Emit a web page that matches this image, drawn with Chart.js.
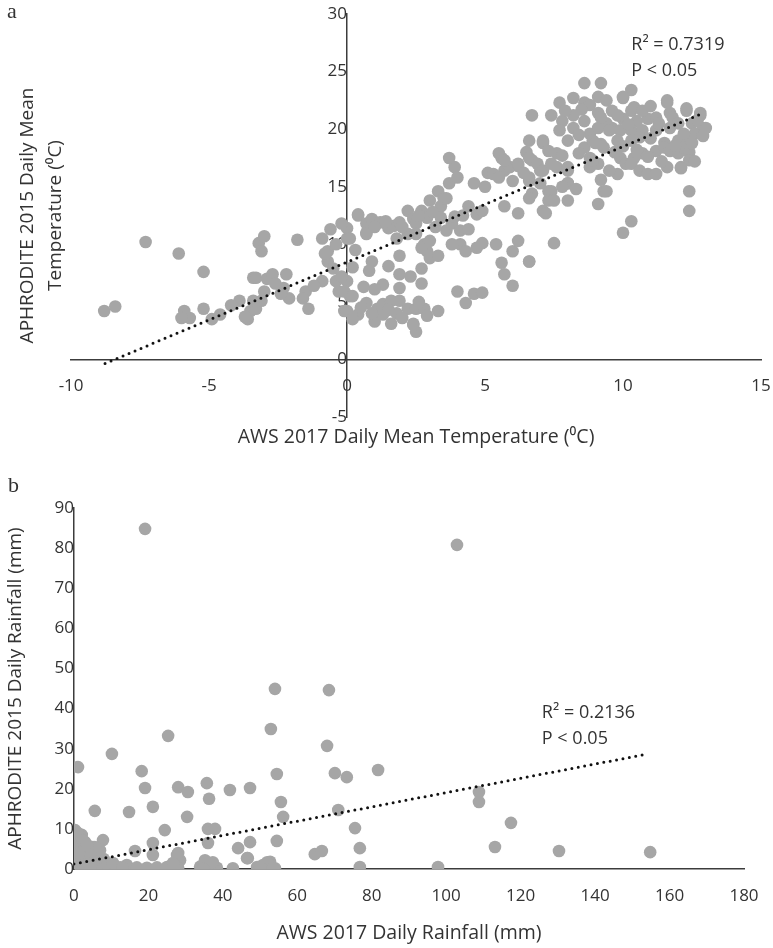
<!DOCTYPE html>
<html>
<head>
<meta charset="utf-8">
<script src="https://cdn.jsdelivr.net/npm/chart.js@4"></script>
<style>
  body { margin: 0; background: #fff; }
  .panel { position: absolute; left: 0; width: 773px; }
  #panelA { top: 0; height: 460px; }
  #panelB { top: 460px; height: 488px; }
</style>
</head>
<body>
<div class="panel" id="panelA"><canvas id="tempChart"></canvas></div>
<div class="panel" id="panelB"><canvas id="rainChart"></canvas></div>
<script>
// panel a: daily mean temperature, AWS 2017 (x) vs APHRODITE 2015 (y)
const tempAws = [
  -8.8, -8.4, -7.3, -6.1, -5.2, -5.9, -5.7, -6.0, -5.2, -4.9, -4.6, -3.9, -3.6, -3.5, -3.3, -3.1, -3.0, -3.4, -3.3, -2.9,
  -2.7, -3.2, -3.0, -3.1, -2.2, -2.3, -2.1, -2.4, -1.8, -1.5, -1.4, -1.6, -0.9, -0.7, -0.7, -0.6, -0.9, -0.4, -0.3, -0.8,
  -0.5, -0.1, -3.7, -3.4, 0.0, 0.0, 0.4, 0.7, 0.0, 0.1, 0.0, 0.4, -0.1, 0.2, 0.1,
  0.4, 0.7, 0.9, 1.2, 1.5, 1.7, 1.9, 2.2, 2.4, 2.7, 2.9, 2.5, 0.7, 1.8, 2.2, 2.5, 2.8, 2.9, 3.0, 3.3,
  2.7, 3.0, 3.3, 3.4, 3.5, 3.7, 3.9, 3.7, 4.0, 3.6, 3.4, 3.6, 3.8, 4.1, 4.4, 4.4, 0.9, 0.8, 1.9, 1.5,
  2.7, 1.9, 2.3, 2.7, 1.3, 1.0, 1.9, 0.7, 1.1, 1.3, 1.6, 1.9, 2.2, 2.5, 2.8, 3.3, 1.0, 1.6, 1.3, 2.4,
  2.5, 2.4, 4.0, 4.3, 4.6, 4.9, 4.1, 4.3, 4.7, 4.9, 5.4, 5.6, 5.7, 6.0, 6.0, 6.2, 6.6, 4.6, 5.1, 5.3,
  5.6, 5.7, 5.9, 6.2, 4.7, 4.9, 5.7, 6.2, 6.7, 6.6, 6.5, 6.7, 7.0, 7.1, 7.3, 6.6, 6.7, 7.1,
  8.6, 9.2, 10.3, 7.7, 8.2, 8.6, 8.8, 9.1, 9.4, 9.6, 10.0, 10.3, 7.4, 7.8, 8.2, 8.6, 9.1, 9.4, 9.6, 10.0,
  10.5, 10.9, 11.2, 11.6, 11.7, 12.3, 12.8, 12.5, 12.9, 7.7, 8.2, 8.8, 9.1, 9.5, 9.9, 10.3, 10.7, 11.2, 11.7, 8.6,
  8.9, 9.3, 9.8, 10.3, 10.6, 11.0, 11.5, 12.0, 12.3, 7.1, 7.3, 7.6, 7.8, 8.8, 9.1, 9.9, 10.1, 10.4, 10.7, 11.2,
  11.5, 11.7, 12.0, 12.2, 12.4, 12.6, 12.5, 6.6, 6.9, 7.1, 7.4, 7.6, 8.0, 6.6, 7.0, 8.8, 9.8, 10.3, 10.6, 10.9,
  11.2, 11.6, 12.1, 12.4, 8.0, 7.4, 7.3, 7.5, 8.0, 9.1, 9.3, 6.6, 7.2, 12.1, 12.4, 12.4, 10.3, 10.0, 7.5, 6.6,
  5.5, 5.7, 6.2, 8.9, 9.2, 9.4, 10.0, 10.4, 11.6, 12.3, 12.8, 13.0, 12.9, 8.0, 8.0,
  8.0, 8.4, 9.0, 9.7, 10.0, 10.5, 10.9, 11.4, 11.9, 12.2, 12.7, 11.3, 11.8, 10.7, 10.2, 9.2, 8.5, 7.9, 9.8, 11.0,
  12.0, 12.6, 8.4, 9.5, 9.2, 8.3, 7.8, 1.0, 1.4, 2.0, 2.6, 3.1, 3.2, 3.9, 4.2, 3.0, 3.8, 0.5, 0.9, 1.8,
  2.0, 2.9, 1.5, 2.6, 0.2, -0.2, 0.2, -0.4, 0.3, -0.2, 5.0, 5.5, 6.0, 6.4, -2.6, -4.2, -1.2, 0.6
];
const tempAphro = [
  4.2, 4.6, 10.2, 9.2, 7.6, 4.2, 3.6, 3.6, 4.4, 3.5, 3.9, 5.1, 3.5, 4.2, 4.4, 5.1, 5.9, 7.1, 7.1, 7.0,
  7.4, 10.1, 10.7, 9.4, 7.4, 6.2, 5.3, 5.7, 10.4, 5.9, 4.4, 5.3, 6.8, 8.5, 9.4, 11.3, 10.5, 6.8, 5.9, 9.2,
  7.9, 4.2, 3.7, 5.1, 11.4, 10.5, 12.5, 11.0, 6.8, 5.5, 4.2, 3.9, 5.9, 5.5, 10.5,
  12.6, 11.8, 12.2, 11.9, 11.4, 11.6, 11.9, 12.9, 12.2, 12.9, 12.3, 11.8, 10.9, 10.5, 10.9, 10.9, 10.0, 9.4, 8.8, 9.0,
  9.7, 13.8, 14.6, 13.3, 14.0, 15.3, 16.7, 17.5, 15.8, 14.0, 12.3, 11.2, 11.8, 11.2, 11.3, 13.3, 8.5, 7.7, 9.0, 8.1,
  7.9, 7.4, 7.2, 6.6, 6.5, 6.1, 6.2, 4.9, 4.4, 4.8, 5.1, 5.1, 4.4, 4.4, 4.4, 4.2, 3.3, 3.1, 3.9, 3.1,
  2.4, 3.0, 5.9, 4.9, 5.7, 5.8, 10.0, 9.4, 9.7, 10.1, 10.0, 8.4, 7.4, 6.4, 9.4, 10.3, 8.5, 15.3, 16.2, 16.1,
  17.5, 16.4, 16.7, 16.8, 12.6, 12.9, 13.3, 12.7, 21.2, 19.0, 18.0, 17.3, 16.4, 18.8, 14.6, 15.5, 14.4, 12.9,
  24.0, 24.0, 23.4, 22.3, 22.7, 22.3, 22.1, 22.8, 22.5, 21.6, 22.7, 21.6, 21.2, 20.7, 21.2, 20.7, 21.4, 20.5, 20.1, 20.9,
  20.7, 20.9, 21.0, 22.3, 21.4, 21.6, 21.4, 20.5, 20.1, 19.9, 20.1, 19.6, 20.1, 19.9, 19.9, 19.9, 19.9, 19.9, 20.1, 18.4,
  19.0, 18.4, 19.0, 19.0, 19.3, 19.2, 18.8, 19.0, 19.0, 19.0, 18.1, 17.9, 17.7, 17.5, 17.0, 17.5, 17.0, 17.5, 17.9, 18.1,
  18.4, 18.1, 17.9, 18.4, 18.0, 19.6, 18.8, 17.5, 17.0, 16.4, 17.0, 16.7, 16.4, 15.8, 15.3, 16.7, 16.1, 17.0, 16.4, 16.1,
  16.1, 16.7, 16.7, 17.3, 15.3, 14.6, 13.8, 13.8, 13.8, 13.5, 14.6, 14.0, 12.7, 16.6, 14.6, 12.9, 12.0, 11.0, 10.1, 8.5,
  17.9, 17.3, 17.0, 17.3, 18.7, 14.6, 22.8, 21.9, 22.5, 21.8, 21.2, 20.1, 19.4, 16.7, 15.3,
  19.0, 19.5, 18.8, 18.0, 18.5, 18.2, 17.6, 17.2, 18.6, 19.6, 20.8, 20.5, 21.0, 21.6, 20.4, 21.0, 21.7, 21.6, 21.2, 22.0,
  20.5, 17.2, 17.9, 16.4, 15.6, 14.8, 15.0, 11.5, 12.0, 11.5, 12.5, 12.8, 11.5, 12.4, 12.5, 10.3, 10.0, 4.5, 4.0, 4.0,
  3.6, 3.8, 4.3, 5.0, 3.5, 7.2, 8.0, 10.0, 9.5, 11.8, 15.0, 15.8, 15.5, 16.2, 6.6, 4.7, 6.4, 6.3
];
const tempTrendX = [-8.77, 12.8];
const tempTrendY = [-0.35, 21.3];
const tempNote = ['R\u00B2 = 0.7319', 'P < 0.05'];

// panel b: daily rainfall, AWS 2017 (x) vs APHRODITE 2015 (y)
const rainAws = [
  19.1, 102.9, 54.0, 68.5, 25.3, 52.9, 68.0, 10.2, 1.1, 18.2, 54.5, 70.1, 73.3, 81.7, 19.1, 28.0, 30.6, 35.7, 41.9, 47.3,
  36.3, 55.6, 21.2, 5.6, 14.8, 71.0, 56.2, 30.4, 24.4, 36.0, 37.9, 75.5, 0.3, 2.1, 7.8, 21.2, 36.0, 47.3, 54.5, 76.8,
  16.4, 44.1, 64.7, 66.6, 21.2, 28.0, 28.5, 46.5, 76.8, 108.8, 108.8, 117.4, 113.1, 130.3, 154.8, 97.8,
  3.0, 6.2, 9.7, 12.4, 14.2, 16.9, 19.6, 22.3, 25.0, 28.0, 33.9, 35.2, 37.3, 38.4, 42.7, 49.2, 50.8, 52.7, 54.0,
  35.2, 37.3, 34.7, 51.9, 50.0, 53.5, 27.7, 26.6, 46.7,
  0.3, 1.6, 0.3, 0.0, 0.8, 0.0, 2.4, 3.5, 5.1, 7.0, 0.0, 1.6, 4.3, 6.2, 7.8,
  0.0, 0.5, 1.6, 2.7, 4.0, 5.1, 6.2, 7.3, 8.6, 9.7, 10.7, 11.8,
  0.0, 0.3, 0.5, 1.0, 0.0, 0.0, 0.5, 1.0, 2.0, 3.0, 4.0, 5.0, 0.2, 1.2, 2.0, 3.0, 3.0, 5.6,
  0.5, 1.0, 1.5, 2.5, 3.5, 4.5, 5.5, 6.5, 8.0, 9.0, 10.5, 13.0, 2.0, 4.5
];
const rainAphro = [
  84.8, 80.8, 44.9, 44.6, 33.2, 34.9, 30.7, 28.7, 25.4, 24.4, 23.7, 23.9, 22.9, 24.7, 20.2, 20.4, 19.2, 21.4, 19.7, 20.2,
  17.5, 16.7, 15.5, 14.5, 14.2, 14.7, 13.0, 13.0, 9.7, 10.0, 10.0, 10.2, 9.2, 8.5, 7.2, 6.5, 6.5, 6.7, 7.0, 5.2,
  4.5, 5.2, 3.7, 4.5, 3.5, 4.0, 2.2, 2.7, 0.5, 19.2, 16.7, 11.5, 5.5, 4.5, 4.2, 0.5,
  0.5, 0.3, 0.5, 0.4, 1.0, 0.4, 0.3, 0.4, 0.5, 0.3, 0.6, 1.2, 0.5, 0.3, 0.2, 0.5, 1.0, 1.8, 0.2,
  2.2, 1.7, 0.0, 1.7, 0.5, 0.2, 3.5, 1.5, 2.7,
  9.7, 8.5, 6.7, 4.7, 3.0, 1.5, 5.5, 4.0, 5.5, 4.7, 4.0, 2.2, 2.2, 3.0, 1.7,
  0.0, 0.0, 0.3, 0.2, 0.4, 0.2, 0.3, 0.2, 0.3, 0.2, 0.3, 0.2,
  0.5, 2.5, 1.0, 0.5, 3.0, 6.0, 5.0, 2.0, 1.0, 1.5, 1.0, 0.8, 7.5, 6.0, 3.5, 2.5, 6.7, 5.5,
  7.0, 9.0, 4.0, 7.0, 6.0, 3.5, 2.0, 1.0, 2.5, 1.0, 1.5, 0.3, 0.8, 0.8
];
const rainTrendX = [0, 154.2];
const rainTrendY = [1.25, 28.7];
const rainNote = ['R\u00B2 = 0.2136', 'P < 0.05'];

const textColor = '#333333';
const axisColor = '#3c3c3c';
const pointColor = '#a6a6a6';

Chart.defaults.font.family = '"Open Sans", sans-serif';
Chart.defaults.font.size = 17;
Chart.defaults.color = textColor;

//pair up two value lists into {x, y} points
function toPoints(xs, ys) {
  return xs.map((x, i) => ({ x: x, y: ys[i] }));
}

//axes drawn at zero should not take any room in the layout
function noRoom(scale) {
  if (scale.isHorizontal()) scale.height = 0; else scale.width = 0;
  scale.paddingLeft = 0;
  scale.paddingRight = 0;
  scale.paddingTop = 0;
  scale.paddingBottom = 0;
}

//panel letter and the R2 / P note written on top of the chart
const notesPlugin = {
  id: 'notes',
  afterDraw(chart, args, opts) {
    const ctx = chart.ctx;
    ctx.save();
    ctx.fillStyle = textColor;
    ctx.textBaseline = 'alphabetic';
    ctx.font = '22px "Liberation Serif", serif';
    ctx.fillText(opts.letter, opts.letterAt[0], opts.letterAt[1]);
    ctx.font = '18px "Open Sans", sans-serif';
    const x = chart.scales.x.getPixelForValue(opts.at[0]);
    const y = chart.scales.y.getPixelForValue(opts.at[1]);
    opts.lines.forEach((line, i) => ctx.fillText(line, x, y + i * 26));
    ctx.restore();
  }
};

//one scatter panel: axes cross at zero, titles come from two extra blank axes
function makePanel(canvasId, s) {
  const ctx = document.getElementById(canvasId);
  return new Chart(ctx, {
    type: 'scatter',
    data: {
      datasets: [
        {
          type: 'line',
          data: toPoints(s.trendX, s.trendY),
          xAxisID: 'x', yAxisID: 'y',
          borderColor: '#111',
          borderWidth: 3,
          borderDash: [0, 6.5],
          borderCapStyle: 'round',
          pointRadius: 0,
          fill: false,
          order: 0
        },
        {
          data: toPoints(s.xs, s.ys),
          xAxisID: 'x', yAxisID: 'y',
          backgroundColor: pointColor,
          borderWidth: 0,
          pointRadius: 6.3,
          order: 1
        }
      ]
    },
    options: {
      responsive: true,
      maintainAspectRatio: false,
      animation: false,
      events: [],
      layout: { padding: s.padding },
      plugins: {
        legend: { display: false },
        tooltip: { enabled: false },
        notes: { letter: s.letter, letterAt: s.letterAt, lines: s.note, at: s.noteAt }
      },
      scales: {
        x: {
          type: 'linear',
          position: { y: 0 },
          min: s.xRange[0], max: s.xRange[1],
          ticks: { stepSize: s.xRange[2], padding: 17 },
          grid: { display: false, drawTicks: false },
          border: { display: true, color: axisColor, width: 1.5 },
          afterFit: noRoom
        },
        y: {
          type: 'linear',
          position: { x: 0 },
          min: s.yRange[0], max: s.yRange[1],
          ticks: { stepSize: s.yRange[2], padding: 19 },
          grid: { display: false, drawTicks: false },
          border: { display: true, color: axisColor, width: 1.5 },
          afterFit: noRoom
        },
        xTitle: {
          axis: 'x',
          type: 'linear',
          position: 'bottom',
          ticks: { display: false },
          grid: { display: false, drawTicks: false },
          border: { display: false },
          title: { display: true, text: s.xTitle, padding: s.xTitlePad, font: { size: 19.5, lineHeight: 1.2 } }
        },
        yTitle: {
          axis: 'y',
          type: 'linear',
          position: 'left',
          ticks: { display: false },
          grid: { display: false, drawTicks: false },
          border: { display: false },
          title: { display: true, text: s.yTitle, padding: s.yTitlePad, font: { size: 19, lineHeight: 1.45 } }
        }
      }
    },
    plugins: [notesPlugin]
  });
}

makePanel('tempChart', {
  xs: tempAws, ys: tempAphro,
  trendX: tempTrendX, trendY: tempTrendY,
  xRange: [-10, 15, 5], yRange: [-5, 30, 5],
  xTitle: 'AWS 2017 Daily Mean Temperature (\u2070C)',
  yTitle: ['APHRODITE 2015 Daily Mean', 'Temperature (\u2070C)'],
  xTitlePad: { top: 8.3, bottom: 0 },
  yTitlePad: { top: 6, bottom: 2 },
  padding: { left: 8, right: 12, top: 14, bottom: 11.3 },
  letter: 'a', letterAt: [7, 18],
  note: tempNote, noteAt: [10.3, 26.9]
});

makePanel('rainChart', {
  xs: rainAws, ys: rainAphro,
  trendX: rainTrendX, trendY: rainTrendY,
  xRange: [0, 180, 20], yRange: [0, 90, 10],
  xTitle: 'AWS 2017 Daily Rainfall (mm)',
  yTitle: 'APHRODITE 2015 Daily Rainfall (mm)',
  xTitlePad: { top: 52.3, bottom: 0 },
  yTitlePad: { top: 2.2, bottom: 44.2 },
  padding: { left: 0, right: 29, top: 48, bottom: 3.3 },
  letter: 'b', letterAt: [8, 32],
  note: rainNote, noteAt: [125.7, 37.6]
});
</script>
</body>
</html>
